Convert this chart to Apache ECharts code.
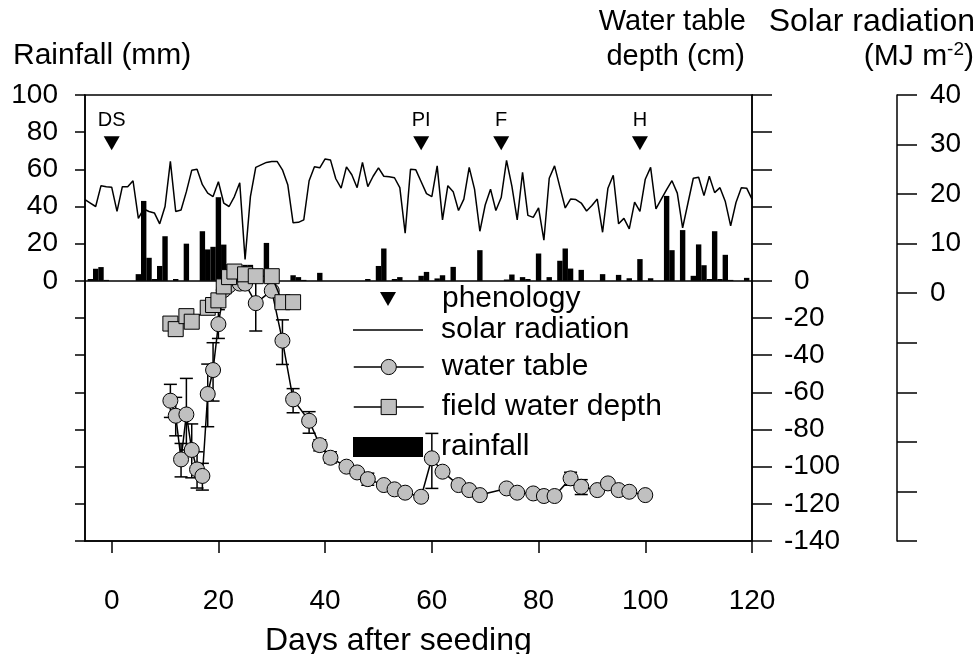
<!DOCTYPE html>
<html>
<head>
<meta charset="utf-8">
<script src="https://cdn.jsdelivr.net/npm/echarts@6/dist/echarts.min.js"></script>
<style>
html,body{margin:0;padding:0;background:#fff;}
#c{width:978px;height:654px;}
</style>
</head>
<body>
<div id="c"></div>
<script>
// ---- data ----
const xTicks = [0, 20, 40, 60, 80, 100, 120];

const rainDays = [-4,-3,-2,-1,5,6,7,8,9,10,12,14,17,18,19,20,21,22,23,24,25,26,29,34,35,36,39,48,50,51,53,54,58,59,61,62,64,69,74,75,77,78,80,82,84,85,86,88,92,95,97,99,101,104,105,107,109,110,111,112,113,114,115,116,119];
const rainMm   = [1,6.5,7.4,0.5,3.6,43,12.4,1,8,24,1,20,26.7,16.9,18.3,45,19.5,9,3,3,8.6,8.6,20.4,3,2,0.5,4.3,1,8,17.4,1,2,2.7,4.8,1.3,3,7.5,16.5,0.7,3.4,2,1,14.7,2,10.8,17.4,6.6,5.9,3.6,3.2,1.4,11.7,1.4,45.7,16.5,27.3,2.7,19.6,8.4,1,26.7,1,14,0.5,1.6];

const solarDays = [-5,-4,-3,-2,-1,0,1,2,3,4,5,6,7,8,9,10,11,12,13,14,15,16,17,18,19,20,21,22,23,24,25,26,27,28,29,30,31,32,33,34,35,36,37,38,39,40,41,42,43,44,45,46,47,48,49,50,51,52,53,54,55,56,57,58,59,60,61,62,63,64,65,66,67,68,69,70,71,72,73,74,75,76,77,78,79,80,81,82,83,84,85,86,87,88,89,90,91,92,93,94,95,96,97,98,99,100,101,102,103,104,105,106,107,108,109,110,111,112,113,114,115,116,117,118,119,120];
const solarMJ = [18.9,18.2,17.5,21.7,21.5,21.4,16.5,21.5,21.5,22.7,15.1,17.0,16.5,16.2,14.0,17.5,26.6,16.5,16.8,20.5,24.8,25.0,21.9,20.2,19.5,22.5,18.2,17.5,19.5,22.3,6.8,19.5,25.4,25.9,26.4,26.6,26.6,24.9,21.9,14.2,14.3,14.8,22.7,25.5,25.3,27.1,26.9,23.1,21.2,25.5,23.9,21.3,26.4,21.5,23.6,25.3,23.6,23.5,23.3,21.3,12.1,25.0,24.9,22.5,20.1,19.5,25.7,14.8,21.7,20.5,16.7,19.0,25.4,21.0,12.5,17.8,21.0,16.7,19.3,26.8,21.6,14.8,24.4,15.7,15.3,17.2,10.7,23.2,25.7,21.4,17.2,19.0,18.9,18.2,16.6,17.7,19.0,12.3,21.2,23.8,14.0,15.1,13.0,18.4,16.5,23.0,25.4,17.0,19.0,20.9,22.7,20.2,13.2,18.2,23.2,23.4,19.7,23.6,20.3,21.3,18.5,13.6,18.3,21.3,21.2,19.0];

const wtDays  = [11,12,13,14,15,16,17,18,19,20,21,22,24,25,27,30,32,34,37,39,41,44,46,48,51,53,55,58,60,62,65,67,69,74,76,79,81,83,86,88,91,93,95,97,100];
const wtDepth = [-64.5,-72.6,-96.1,-71.9,-91,-101.5,-105,-60.9,-48,-23.3,-5,-2.5,-1.5,-1.5,-12,-5.3,-32.2,-63.8,-75.3,-88.4,-95.2,-100,-103.1,-106.7,-109.9,-112.2,-114,-116.2,-95.5,-102.7,-109.9,-112.6,-115.3,-111.7,-114,-114.4,-115.8,-115.8,-106.3,-110.8,-112.6,-109,-112.6,-113.5,-115.3];

const errDays = [11,12,13,14,15,16,17,18,19,20,27,32,34,37,39,41,48,60,86,88];
const errLow  = [-73.5,-83.4,-105.5,-91,-106,-111.5,-112.6,-78.5,-64.7,-31,-27,-45,-71,-82,-91.5,-98,-110,-111.7,-110,-115];
const errHigh = [-55.7,-62.7,-87.5,-52.5,-77,-92,-98.2,-44.8,-33.3,-15.5,3,-21,-58,-70.4,-85.5,-92,-103.5,-82.1,-103,-107];

const fwDays  = [11,12,14,15,18,19,20,21,22,23,25,27,30,32,34];
const fwDepth = [-23,-26,-19,-22,-14.5,-13,-10.5,-3,2,5,3.5,2.5,2.5,-11.5,-11.5];

const phenoNames = ['DS','PI','F','H'];
const phenoDays  = [0, 58, 73, 99];
const phenoLevel = [74, 74, 74, 74];

// ---- chart ----
const FONT = 'Liberation Sans, Arial, Helvetica, sans-serif';
const zip = (a, b) => a.map((v, i) => [v, b[i]]);
const chart = echarts.init(document.getElementById('c'), null, {renderer: 'canvas'});

const legendBase = {
  orient: 'horizontal', left: 353, padding: 0, itemWidth: 70, selectedMode: false,
  textStyle: {fontSize: 30, color: '#000', fontFamily: FONT, lineHeight: 30, padding: [0, 0, 0, 13]},
  lineStyle: {color: '#000', width: 1.5},
};
const axisLbl = {fontSize: 28, color: '#000', fontFamily: FONT};

const option = {
  animation: false,
  backgroundColor: '#fff',
  textStyle: {fontFamily: FONT},
  grid: {left: 85, right: 226, top: 95, bottom: 113, show: true, borderColor: '#000', borderWidth: 1.5, backgroundColor: 'transparent'},
  xAxis: {
    type: 'value', min: -5, max: 120,
    axisLine: {show: true, onZero: false, lineStyle: {color: '#000', width: 1.5}},
    axisTick: {show: true, length: 12, customValues: xTicks, lineStyle: {color: '#000', width: 1.5}},
    axisLabel: Object.assign({customValues: xTicks, margin: 46}, axisLbl),
    splitLine: {show: false}
  },
  yAxis: [
    {
      type: 'value', position: 'left', min: -140, max: 100, interval: 20,
      axisLine: {show: true, onZero: false, lineStyle: {color: '#000', width: 1.5}},
      axisTick: {show: true, length: 10, lineStyle: {color: '#000', width: 1.5}},
      axisLabel: Object.assign({margin: 27, formatter: v => v >= 0 ? String(v) : ''}, axisLbl),
      splitLine: {show: false}
    },
    {
      type: 'value', position: 'right', min: -140, max: 100, interval: 20,
      axisLine: {show: true, onZero: false, lineStyle: {color: '#000', width: 1.5}},
      axisTick: {show: true, length: 20, lineStyle: {color: '#000', width: 1.5}},
      axisLabel: Object.assign({margin: 32,
        formatter: v => v === 0 ? '{z|0}' : (v < 0 ? String(v) : ''),
        rich: {z: {fontSize: 28, color: '#000', fontFamily: FONT, padding: [0, 0, 0, 10]}}}, axisLbl),
      splitLine: {show: false}
    },
    {
      type: 'value', position: 'right', offset: 145, min: -50, max: 40, interval: 10,
      axisLine: {show: true, onZero: false, lineStyle: {color: '#000', width: 1.5}},
      axisTick: {show: true, length: 20, lineStyle: {color: '#000', width: 1.5}},
      axisLabel: Object.assign({margin: 33, formatter: v => v >= 0 ? String(v) : ''}, axisLbl),
      splitLine: {show: false}
    }
  ],
  legend: [
    Object.assign({}, legendBase, {data: [{name: 'phenology', icon: 'path://M0,0 L16,0 L8,14 Z'}], left: 380, top: 284, itemWidth: 16, itemHeight: 14,
      textStyle: Object.assign({}, legendBase.textStyle, {padding: [0, 0, 0, 41]}), itemStyle: {color: '#000', borderWidth: 0, opacity: 1}}),
    Object.assign({}, legendBase, {data: [{name: 'solar radiation', icon: 'rect'}], top: 315, itemHeight: 1.5, itemStyle: {color: '#000', borderWidth: 0}}),
    Object.assign({}, legendBase, {data: ['water table'], top: 352, itemHeight: 19, itemStyle: {color: '#c0c0c0', borderColor: '#000', borderWidth: 1}}),
    Object.assign({}, legendBase, {data: ['field water depth'], top: 392, itemHeight: 19, itemStyle: {color: '#c0c0c0', borderColor: '#000', borderWidth: 1}}),
    Object.assign({}, legendBase, {data: [{name: 'rainfall', icon: 'rect'}], top: 432, itemHeight: 20, itemStyle: {color: '#000', borderWidth: 0}})
  ],
  graphic: [
    {type: 'text', left: 13, top: 41, style: {text: 'Rainfall (mm)', font: '30px ' + FONT, fill: '#000'}},
    {type: 'text', right: 232, top: 7, style: {text: 'Water table', font: '29px ' + FONT, fill: '#000'}},
    {type: 'text', right: 233, top: 42, style: {text: 'depth (cm)', font: '29px ' + FONT, fill: '#000'}},
    {type: 'text', right: 3, top: 6, style: {text: 'Solar radiation', font: '32px ' + FONT, fill: '#000'}},
    {type: 'text', right: 4, top: 40, style: {
      text: '(MJ m{s|-2})', font: '30px ' + FONT, fill: '#000',
      rich: {s: {fontSize: 19, fontFamily: FONT, verticalAlign: 'top', padding: [0, 0, 14, 0]}}
    }},
    {type: 'text', left: 265, top: 625, style: {text: 'Days after seeding', font: '32px ' + FONT, fill: '#000'}}
  ],
  series: [
    {
      name: 'rainfall', type: 'bar', xAxisIndex: 0, yAxisIndex: 0, barWidth: 5.4, z: 1,
      itemStyle: {color: '#000'},
      data: zip(rainDays, rainMm),
      markLine: {silent: true, symbol: 'none', label: {show: false}, lineStyle: {color: '#000', width: 1.5, type: 'solid'}, data: [{yAxis: 0}]}
    },
    {
      name: 'solar radiation', type: 'line', xAxisIndex: 0, yAxisIndex: 2, symbol: 'none', showSymbol: false, z: 2,
      itemStyle: {color: '#000'},
      lineStyle: {color: '#000', width: 1.5},
      data: zip(solarDays, solarMJ)
    },
    {
      name: 'wt error', type: 'custom', xAxisIndex: 0, yAxisIndex: 1, z: 3,
      encode: {x: 0, y: [1, 2]},
      data: errDays.map((d, i) => [d, errLow[i], errHigh[i]]),
      renderItem: function (params, api) {
        const x = api.value(0);
        const pLo = api.coord([x, api.value(1)]);
        const pHi = api.coord([x, api.value(2)]);
        const w = 6.5;
        const st = {stroke: '#000', lineWidth: 1.5};
        return {type: 'group', children: [
          {type: 'line', shape: {x1: pLo[0], y1: pLo[1], x2: pHi[0], y2: pHi[1]}, style: st},
          {type: 'line', shape: {x1: pLo[0] - w, y1: pLo[1], x2: pLo[0] + w, y2: pLo[1]}, style: st},
          {type: 'line', shape: {x1: pHi[0] - w, y1: pHi[1], x2: pHi[0] + w, y2: pHi[1]}, style: st}
        ]};
      }
    },
    {
      name: 'water table', type: 'line', xAxisIndex: 0, yAxisIndex: 1, z: 4,
      symbol: 'circle', symbolSize: 15,
      itemStyle: {color: '#c0c0c0', borderColor: '#000', borderWidth: 1},
      lineStyle: {color: '#000', width: 1.5},
      data: zip(wtDays, wtDepth)
    },
    {
      name: 'field water depth', type: 'line', xAxisIndex: 0, yAxisIndex: 1, z: 5,
      symbol: 'rect', symbolSize: 15,
      itemStyle: {color: '#c0c0c0', borderColor: '#000', borderWidth: 1},
      lineStyle: {color: '#000', width: 1.5},
      data: zip(fwDays, fwDepth)
    },
    {
      name: 'phenology', type: 'scatter', xAxisIndex: 0, yAxisIndex: 0, z: 6,
      symbol: 'triangle', symbolRotate: 180, symbolSize: [16, 14],
      itemStyle: {color: '#000', opacity: 1},
      label: {show: true, position: 'top', distance: 6, fontSize: 20, color: '#000', fontFamily: FONT,
        formatter: p => phenoNames[p.dataIndex]},
      data: phenoDays.map((d, i) => [d, phenoLevel[i]])
    }
  ]
};
chart.setOption(option);
</script>
</body>
</html>
